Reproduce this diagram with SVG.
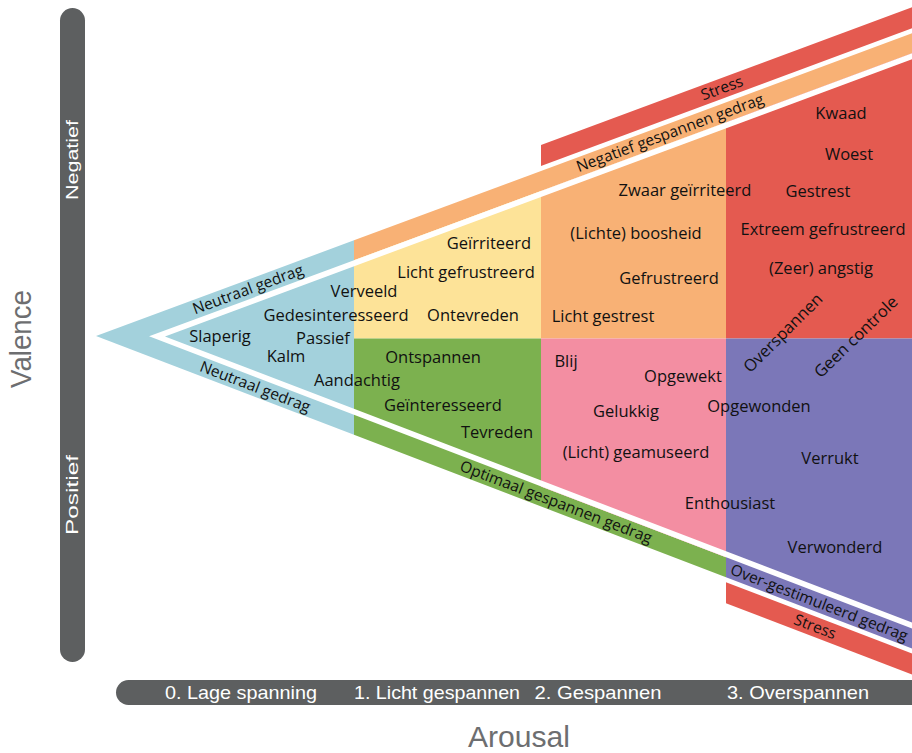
<svg xmlns="http://www.w3.org/2000/svg" width="912" height="753" viewBox="0 0 912 753">
<style>
.lbl{font-family:"Open Sans","Liberation Sans",sans-serif;font-size:16.5px;fill:#111;text-anchor:middle}
.band{font-family:"Open Sans","Liberation Sans",sans-serif;font-size:15.5px;fill:#111;text-anchor:middle}
.ax{font-family:"Liberation Sans Narrow","Liberation Sans",sans-serif;fill:#fff;text-anchor:middle}
.axt{font-family:"Liberation Sans Narrow","Liberation Sans",sans-serif;fill:#6d6e70;text-anchor:middle}
.bar{fill:#5d5f60}
</style>
<rect width="912" height="753" fill="#fff"/>
<g id="regions">
<polygon id="blue" points="96,336 354,240.3 354,434.8" fill="#a3d1dc"/>
<polygon id="orange-band" points="354,240.3 915,32.2 915,52.2 354,260.3" fill="#f8b175"/>
<polygon id="yellow" points="354,260.3 541,190.9 541,338.5 354,338.5" fill="#fde398"/>
<polygon id="orange" points="541,190.9 726,122.3 726,338.5 541,338.5" fill="#f8b175"/>
<polygon id="red" points="726,122.3 915,52.2 915,338.5 726,338.5" fill="#e45a50"/>
<polygon id="green" points="354,338.5 541,338.5 541,486.4 726,557.3 726,577.3 354,434.8" fill="#7cb14f"/>
<polygon id="pink" points="541,338.5 726,338.5 726,557.3 541,486.4" fill="#f38ea2"/>
<polygon id="purple" points="726,338.5 915,338.5 915,649.6 726,577.3" fill="#7b77b8"/>
<polygon id="gap" points="149.05,336.3 915,52.2 915,58.2 164.97,336.4 915,623.6 915,629.6" fill="#fff"/>
<polygon id="stress-top" points="541,144.9 915,6.2 915,27.2 541,165.9" fill="#e45a50"/>
<polygon id="stress-bottom" points="726,582.3 915,654.6 915,675.6 726,603.3" fill="#e45a50"/>
</g>
<g id="band-labels">
<text class="band" transform="translate(248,289.6) rotate(-20.35)" y="5">Neutraal gedrag</text>
<text class="band" transform="translate(670,133.1) rotate(-20.35)" y="5">Negatief gespannen gedrag</text>
<text class="band" transform="translate(722,88.3) rotate(-20.35)" y="5">Stress</text>
<text class="band" transform="translate(255,386.9) rotate(20.96)" y="5">Neutraal gedrag</text>
<text class="band" transform="translate(556,502.2) rotate(20.96)" y="5">Optimaal gespannen gedrag</text>
<text class="band" style="text-anchor:start" transform="translate(731,569.2) rotate(20.96)" y="5">Over-gestimuleerd gedrag</text>
<text class="band" transform="translate(815,626.9) rotate(20.96)" y="5">Stress</text>
</g>
<g id="labels">
<text class="lbl" x="220" y="341.5">Slaperig</text>
<text class="lbl" x="323" y="343.5">Passief</text>
<text class="lbl" x="364" y="296.5">Verveeld</text>
<text class="lbl" x="336" y="320.5">Gedesinteresseerd</text>
<text class="lbl" x="286" y="361.5">Kalm</text>
<text class="lbl" x="357" y="385.5">Aandachtig</text>
<text class="lbl" x="489" y="248.5">Geïrriteerd</text>
<text class="lbl" x="466" y="277.5">Licht gefrustreerd</text>
<text class="lbl" x="473" y="320.5">Ontevreden</text>
<text class="lbl" x="433" y="362.5">Ontspannen</text>
<text class="lbl" x="443" y="410.5">Geïnteresseerd</text>
<text class="lbl" x="497" y="437.5">Tevreden</text>
<text class="lbl" x="685" y="195.5">Zwaar geïrriteerd</text>
<text class="lbl" x="636" y="238.5">(Lichte) boosheid</text>
<text class="lbl" x="669" y="283.5">Gefrustreerd</text>
<text class="lbl" x="603" y="321.5">Licht gestrest</text>
<text class="lbl" x="841" y="118.5">Kwaad</text>
<text class="lbl" x="849" y="159.5">Woest</text>
<text class="lbl" x="818" y="196.5">Gestrest</text>
<text class="lbl" x="823" y="234.5">Extreem gefrustreerd</text>
<text class="lbl" x="821" y="273.5">(Zeer) angstig</text>
<text class="lbl" transform="translate(783,333) rotate(-45)" y="5.5">Overspannen</text>
<text class="lbl" transform="translate(856,337) rotate(-44)" y="5.5">Geen controle</text>
<text class="lbl" x="566" y="366.5">Blij</text>
<text class="lbl" x="683" y="381.5">Opgewekt</text>
<text class="lbl" x="626" y="416.5">Gelukkig</text>
<text class="lbl" x="759" y="411.5">Opgewonden</text>
<text class="lbl" x="636" y="457.5">(Licht) geamuseerd</text>
<text class="lbl" x="830" y="463.5">Verrukt</text>
<text class="lbl" x="730" y="508.5">Enthousiast</text>
<text class="lbl" x="835" y="552.5">Verwonderd</text>
</g>
<g id="valence-axis">
<rect class="bar" x="60" y="8" width="25" height="654" rx="12.5"/>
<text class="ax" font-size="17" transform="translate(78,160) rotate(-90)" textLength="80" lengthAdjust="spacingAndGlyphs">Negatief</text>
<text class="ax" font-size="17" transform="translate(78,495) rotate(-90)" textLength="80" lengthAdjust="spacingAndGlyphs">Positief</text>
<text class="axt" font-size="30" transform="translate(31,339) rotate(-90)" textLength="98" lengthAdjust="spacingAndGlyphs">Valence</text>
</g>
<g id="arousal-axis">
<rect class="bar" x="116" y="680" width="820" height="25" rx="12.5"/>
<text class="ax" font-size="19" x="241" y="699" textLength="152" lengthAdjust="spacingAndGlyphs">0. Lage spanning</text>
<text class="ax" font-size="19" x="437" y="699" textLength="166" lengthAdjust="spacingAndGlyphs">1. Licht gespannen</text>
<text class="ax" font-size="19" x="598" y="699" textLength="127" lengthAdjust="spacingAndGlyphs">2. Gespannen</text>
<text class="ax" font-size="19" x="798" y="699" textLength="142" lengthAdjust="spacingAndGlyphs">3. Overspannen</text>
<text class="axt" font-size="30" x="519" y="747" textLength="102" lengthAdjust="spacingAndGlyphs">Arousal</text>
</g>
</svg>
